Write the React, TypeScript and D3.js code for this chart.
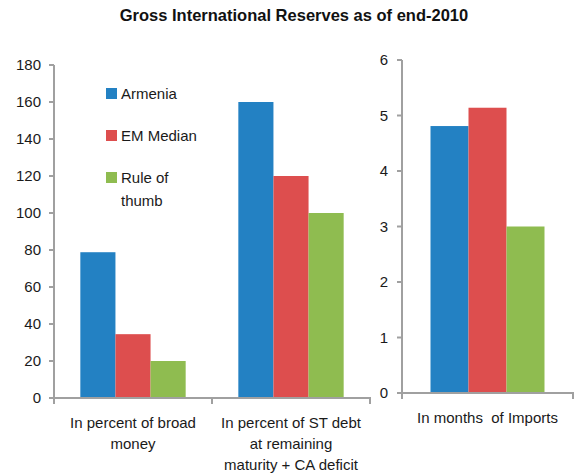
import React from "react";
import * as d3 from "d3";

const seriesNames = ["Armenia", "EM Median", "Rule of thumb"];
const seriesColors = ["#2381c3", "#dd4e4e", "#8fbc50"];

const leftCategories = ["broad", "stdebt"];
const leftLabels = [["In percent of broad", "money"], ["In percent of ST debt", "at remaining", "maturity + CA deficit"]];
const leftValues = [
  [78.8, 34.5, 20],
  [160, 120, 100],
];
const leftTicks = [0, 20, 40, 60, 80, 100, 120, 140, 160, 180];

const rightCategories = ["imports"];
const rightLabels = [["In months  of Imports"]];
const rightValues = [[4.81, 5.14, 3]];
const rightTicks = [0, 1, 2, 3, 4, 5, 6];

const FONT = "'Liberation Sans', Arial, sans-serif";
const AXIS = "#a0a0a0";
const TXT = "#1a1a1a";

function Panel({ cats, labels, values, ticks, x0, x1, yTop, yBot, yMax, labelX }: any) {
  const y = d3.scaleLinear().domain([0, yMax]).range([yBot, yTop]);
  const xb = d3.scaleBand<string>().domain(cats).range([x0, x1]).paddingInner(0).paddingOuter(0);
  const xi = d3.scaleBand<string>().domain(seriesNames).range([0, xb.bandwidth()]).paddingInner(0).paddingOuter(0.75);
  const bounds = [x0, ...cats.map((c: string) => (xb(c) as number) + xb.bandwidth())];
  return (
    <g>
      {cats.map((c: string, ci: number) =>
        seriesNames.map((s, si) => {
          const v = values[ci][si];
          return (
            <rect
              key={c + s}
              x={(xb(c) as number) + (xi(s) as number)}
              y={y(v)}
              width={xi.bandwidth()}
              height={yBot - y(v)}
              fill={seriesColors[si]}
            />
          );
        })
      )}
      <line x1={x0} x2={x0} y1={yTop} y2={yBot} stroke={AXIS} strokeWidth={2} />
      <line x1={x0 - 5} x2={x1 + 1} y1={yBot} y2={yBot} stroke={AXIS} strokeWidth={2} />
      {ticks.map((t: number) => (
        <g key={t}>
          <line x1={x0 - 5} x2={x0} y1={y(t)} y2={y(t)} stroke={AXIS} strokeWidth={2} />
          <text x={labelX} y={y(t)} dy="0.36em" textAnchor="end" fontSize={15} fontFamily={FONT} fill={TXT}>
            {t}
          </text>
        </g>
      ))}
      {bounds.map((b: number, i: number) => (
        <line key={i} x1={b} x2={b} y1={yBot} y2={yBot + 6} stroke={AXIS} strokeWidth={2} />
      ))}
      {cats.map((c: string, ci: number) => (
        <text key={c} textAnchor="middle" fontSize={15} fontFamily={FONT} fill={TXT} style={{ whiteSpace: "pre" }}>
          {labels[ci].map((ln: string, li: number) => (
            <tspan key={li} x={(xb(c) as number) + xb.bandwidth() / 2} y={yBot + 30 + li * 21}>
              {ln}
            </tspan>
          ))}
        </text>
      ))}
    </g>
  );
}

export default function App() {
  return (
    <svg width={574} height={473} style={{ position: "absolute", left: 0, top: 0, background: "#fff" }}>
      <text x={294} y={21} textAnchor="middle" fontSize={16.5} fontWeight="bold" fontFamily={FONT} fill="#111">
        Gross International Reserves as of end-2010
      </text>
      <Panel
        cats={leftCategories}
        labels={leftLabels}
        values={leftValues}
        ticks={leftTicks}
        x0={54}
        x1={370}
        yTop={65}
        yBot={398}
        yMax={180}
        labelX={41}
      />
      <Panel
        cats={rightCategories}
        labels={rightLabels}
        values={rightValues}
        ticks={rightTicks}
        x0={402}
        x1={573}
        yTop={60}
        yBot={393}
        yMax={6}
        labelX={388}
      />
      {seriesNames.map((s, i) => (
        <g key={s}>
          <rect x={106} y={88 + i * 42} width={11} height={11} fill={seriesColors[i]} />
          <text fontSize={15} fontFamily={FONT} fill={TXT}>
            {(i === 2 ? ["Rule of", "thumb"] : [s]).map((ln, li) => (
              <tspan key={li} x={121} y={99 + i * 42 + li * 23}>
                {ln}
              </tspan>
            ))}
          </text>
        </g>
      ))}
    </svg>
  );
}
